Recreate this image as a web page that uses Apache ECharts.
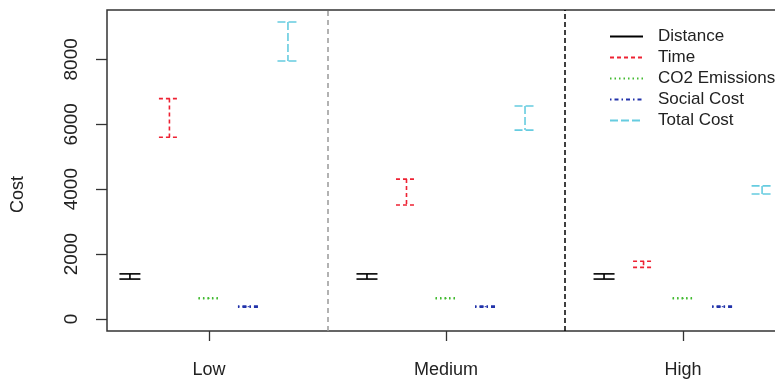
<!DOCTYPE html>
<html>
<head>
<meta charset="utf-8">
<script src="https://cdn.jsdelivr.net/npm/echarts@6/dist/echarts.min.js"></script>
<style>
html,body{margin:0;padding:0;background:#fff;}
#chart{width:775px;height:381px;}
</style>
</head>
<body>
<div id="chart"></div>
<script>
// ---- data ----
var categories = ['Low', 'Medium', 'High'];
var seriesNames = ['Distance', 'Time', 'CO2 Emissions', 'Social Cost', 'Total Cost'];
var distanceLow  = [1230, 1230, 1230];
var distanceHigh = [1390, 1390, 1390];
var timeLow      = [5600, 3510, 1590];
var timeHigh     = [6790, 4310, 1780];
var co2Low       = [625, 625, 625];
var co2High      = [655, 655, 655];
var socialLow    = [365, 365, 365];
var socialHigh   = [395, 395, 395];
var totalLow     = [7950, 5820, 3850];
var totalHigh    = [9150, 6560, 4100];
var yTicks = [0, 2000, 4000, 6000, 8000];

// ---- styles ----
var lows = [distanceLow, timeLow, co2Low, socialLow, totalLow];
var highs = [distanceHigh, timeHigh, co2High, socialHigh, totalHigh];
var colors = ['#000000', '#ee2233', '#44bb33', '#2233aa', '#66cce0'];
var dashes = [null, [4, 3], [1.5, 3], [1.5, 3, 4, 3], [8, 3]];
var lineW = 1.6;

var series = [];
seriesNames.forEach(function (name, k) {
  var data = categories.map(function (c, i) {
    return [i + 1 + (k - 2) / 6, lows[k][i], highs[k][i]];
  });
  series.push({
    name: 'eb_' + name,
    type: 'custom',
    silent: true,
    data: data,
    encode: { x: 0, y: [1, 2] },
    renderItem: function (params, api) {
      var x = api.value(0);
      var pT = api.coord([x, api.value(2)]);
      var pB = api.coord([x, api.value(1)]);
      var h = 10.5;
      var st = { stroke: colors[k], lineWidth: lineW, lineDash: dashes[k] || 'solid', fill: null };
      return {
        type: 'group',
        children: [
          { type: 'line', shape: { x1: pT[0], y1: pT[1], x2: pB[0], y2: pB[1] }, style: st },
          { type: 'line', shape: { x1: pT[0] - h, y1: pT[1], x2: pT[0] + h, y2: pT[1] }, style: st },
          { type: 'line', shape: { x1: pB[0] - h, y1: pB[1], x2: pB[0] + h, y2: pB[1] }, style: st }
        ]
      };
    }
  });
  // legend carrier
  series.push({
    name: name,
    type: 'line',
    data: [],
    symbol: 'none',
    showSymbol: false,
    color: colors[k],
    itemStyle: { color: colors[k], opacity: 0 },
    lineStyle: { color: colors[k], width: lineW, type: dashes[k] || 'solid' }
  });
});

// separators
series.push({
  type: 'line',
  data: [],
  silent: true,
  markLine: {
    silent: true,
    symbol: ['none', 'none'],
    label: { show: false },
    data: [
      { xAxis: 1.5, lineStyle: { color: '#999999', width: 1.5, type: [5, 4] } },
      { xAxis: 2.5, lineStyle: { color: '#000000', width: 1.5, type: [5, 3] } }
    ]
  }
});

var chart = echarts.init(document.getElementById('chart'), null, { renderer: 'canvas' });
chart.setOption({
  animation: false,
  backgroundColor: '#ffffff',
  textStyle: { fontFamily: 'Liberation Sans, Arial, sans-serif' },
  grid: {
    left: 107, width: 678, top: 10, bottom: 50,
    outerBoundsMode: 'none',
    containLabel: false,
    show: true, borderColor: '#333333', borderWidth: 1.5, backgroundColor: 'transparent'
  },
  legend: {
    data: seriesNames,
    orient: 'vertical',
    left: 604,
    top: 23,
    itemWidth: 33,
    itemHeight: 14,
    itemGap: 4,
    selectedMode: false,
    itemStyle: { opacity: 0, borderWidth: 0 },
    textStyle: { fontSize: 17, color: '#222222', padding: [0, 0, 0, 10], fontFamily: 'Liberation Sans, Arial, sans-serif' }
  },
  xAxis: {
    type: 'value',
    min: 0.57,
    max: 3.43,
    splitLine: { show: false },
    axisLine: { show: false, onZero: false },
    axisTick: { show: true, length: 10, customValues: [1, 2, 3], lineStyle: { color: '#333333', width: 1.3 } },
    axisLabel: {
      customValues: [1, 2, 3],
      fontSize: 18,
      color: '#222222',
      margin: 30,
      formatter: function (v) { return categories[Math.round(v) - 1]; }
    }
  },
  yAxis: {
    type: 'value',
    min: -370,
    max: 9520,
    name: 'Cost',
    nameLocation: 'middle',
    nameGap: 80,
    nameTextStyle: { fontSize: 18, color: '#222222', padding: [0, 48, 0, 0] },
    splitLine: { show: false },
    axisLine: { show: false, onZero: false },
    axisTick: { show: true, length: 11, customValues: yTicks, lineStyle: { color: '#333333', width: 1.3 } },
    axisLabel: { customValues: yTicks, rotate: 90, fontSize: 19, color: '#222222', margin: 26,
      formatter: function (v) { return String(v); } }
  },
  series: series
});
</script>
</body>
</html>
